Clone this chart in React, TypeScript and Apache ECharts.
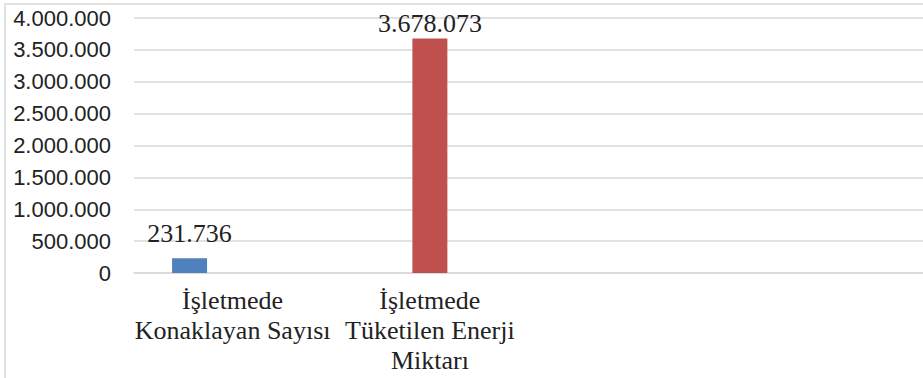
import React, { useEffect, useRef } from "react";
import * as echarts from "echarts";

const categories = [
  "İşletmede\nKonaklayan Sayısı",
  "İşletmede\nTüketilen Enerji\nMiktarı",
  "",
  "",
];
const konaklayanValues = [231736, null, null, null];
const enerjiValues = [null, 3678073, null, null];
const emptySlotValues = [null, null, null, null];
const yMin = 0;
const yMax = 4000000;
const yInterval = 500000;

const fmt = (v: number) =>
  String(Math.round(v)).replace(/\B(?=(\d{3})+(?!\d))/g, ".");

export default function App() {
  const ref = useRef<HTMLDivElement>(null);
  useEffect(() => {
    if (!ref.current) return;
    const chart = echarts.init(ref.current, null, { renderer: "svg" });
    const valueLabel = (distance: number) => ({
      show: true,
      position: "top" as const,
      distance,
      fontFamily: "Liberation Serif",
      fontSize: 26,
      color: "#222",
      formatter: (p: any) => fmt(p.value),
    });
    chart.setOption({
      animation: false,
      backgroundColor: "#fff",
      graphic: [
        {
          type: "rect",
          shape: { x: 5, y: 4, width: 940, height: 400 },
          style: { fill: "none", stroke: "#d9d9d9", lineWidth: 1.5 },
          silent: true,
        },
      ],
      grid: { left: 134, top: 18, width: 796, bottom: 105 },
      xAxis: {
        type: "category",
        data: categories,
        axisLine: { lineStyle: { color: "#d9d9d9", width: 1.5 } },
        axisTick: { show: false },
        axisLabel: {
          interval: 0,
          margin: 12,
          fontFamily: "Liberation Serif",
          fontSize: 26,
          lineHeight: 30,
          color: "#222",
        },
      },
      yAxis: {
        type: "value",
        min: yMin,
        max: yMax,
        interval: yInterval,
        axisLine: { show: false },
        axisTick: { show: false },
        splitLine: { lineStyle: { color: "#d9d9d9", width: 1.5 } },
        axisLabel: {
          margin: 23,
          fontFamily: "Liberation Sans",
          fontSize: 22,
          color: "#222",
          formatter: (v: number) => fmt(v),
        },
      },
      series: [
        {
          name: "İşletmede Konaklayan Sayısı",
          type: "bar",
          data: konaklayanValues,
          barWidth: 35,
          barGap: "23%",
          itemStyle: { color: "#4f81bd" },
          label: valueLabel(12),
        },
        {
          name: "İşletmede Tüketilen Enerji Miktarı",
          type: "bar",
          data: enerjiValues,
          barWidth: 35,
          barGap: "23%",
          itemStyle: { color: "#c0504d" },
          label: valueLabel(2),
        },
        {
          name: "bos",
          type: "bar",
          data: emptySlotValues,
          barWidth: 35,
          barGap: "23%",
          itemStyle: { color: "#9bbb59" },
        },
      ],
    });
    return () => chart.dispose();
  }, []);
  return (
    <div
      ref={ref}
      style={{ position: "fixed", left: 0, top: 0, width: 923, height: 378 }}
    />
  );
}
